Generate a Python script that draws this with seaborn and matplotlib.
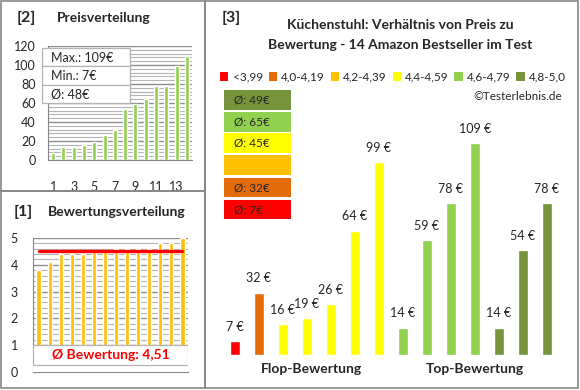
import numpy as np
import matplotlib
matplotlib.use('Agg')
import matplotlib.pyplot as plt
import seaborn as sns
from matplotlib.patches import Rectangle, Patch

# Data
prices_sorted = [7, 14, 14, 16, 19, 26, 32, 54, 59, 64, 78, 78, 99, 109]
ratings_sorted = [3.8, 4.1, 4.4, 4.4, 4.4, 4.5, 4.5, 4.6, 4.6, 4.6, 4.6, 4.8, 4.8, 5.0]
rating_mean = 4.51

bar_prices = [7, 32, 16, 19, 26, 64, 99, 14, 59, 78, 109, 14, 54, 78]
bar_groups = ['<3,99', '4,0-4,19', '4,4-4,59', '4,4-4,59', '4,4-4,59', '4,4-4,59', '4,4-4,59',
              '4,6-4,79', '4,6-4,79', '4,6-4,79', '4,6-4,79', '4,8-5,0', '4,8-5,0', '4,8-5,0']
legend_labels = ['<3,99', '4,0-4,19', '4,2-4,39', '4,4-4,59', '4,6-4,79', '4,8-5,0']
legend_colors = ['#FF0000', '#E36C09', '#FFC000', '#FFFF00', '#92D050', '#77933C']
avg_texts = ['Ø: 49€', 'Ø: 65€', 'Ø: 45€', '', 'Ø: 32€', 'Ø: 7€']
avg_colors = ['#77933C', '#92D050', '#FFFF00', '#FFC000', '#E36C09', '#FF0000']

W, H = 580, 390
GRAY = '#878787'

sns.set_style('white')
plt.rcParams['font.family'] = ['Lato', 'DejaVu Sans']

fig = plt.figure(figsize=(5.8, 3.9), dpi=100)


def box(x0, y0, x1, y1):
    # pixel box (top-left origin) -> figure fraction rect
    return [x0 / W, 1 - y1 / H, (x1 - x0) / W, (y1 - y0) / H]


def fxy(x, y):
    return x / W, 1 - y / H


# panel borders
for b in [box(1, 1, 205, 191), box(1, 191, 205, 388), box(205, 1, 578, 388)]:
    fig.add_artist(Rectangle((b[0], b[1]), b[2], b[3], transform=fig.transFigure,
                             fill=False, edgecolor=GRAY, lw=1.2))

# ---------- [2] Preisverteilung ----------
ax1 = fig.add_axes(box(48, 46, 192, 160))
sns.barplot(x=list(range(14)), y=prices_sorted, color='#92D050', width=0.4,
            saturation=1, ax=ax1, zorder=3)
ax1.set_ylim(0, 120)
ax1.set_xlim(-0.5, 13.5)
ax1.set_yticks(range(0, 121, 20))
ax1.set_yticks(range(0, 121, 4), minor=True)
ax1.grid(axis='y', which='major', color='#8c8c8c', lw=1)
ax1.grid(axis='y', which='minor', color='#b4b4b4', lw=0.8)
ax1.set_xticks(range(0, 14, 2))
ax1.set_xticklabels([str(i + 1) for i in range(0, 14, 2)])
ax1.tick_params(axis='x', length=0, pad=15, labelsize=9)
ax1.tick_params(axis='y', which='both', length=0, pad=9, labelsize=9)
for s in ['top', 'right']:
    ax1.spines[s].set_visible(False)
for s in ['left', 'bottom']:
    ax1.spines[s].set_color(GRAY)
fig.text(*fxy(17, 18), '[2]', fontsize=11.5, fontweight='bold', va='center')
fig.text(*fxy(57, 18), 'Preisverteilung', fontsize=10, fontweight='bold', va='center')

info = [f'Max.: {max(prices_sorted)}€', f'Min.: {min(prices_sorted)}€',
        f'Ø: {round(np.mean(prices_sorted))}€']
for i, t in enumerate(info):
    y0 = 48 + i * 18.3
    b = box(42, y0, 130, y0 + 18.3)
    fig.add_artist(Rectangle((b[0], b[1]), b[2], b[3], transform=fig.transFigure,
                             facecolor='white', edgecolor='#b4b4b4', lw=0.9, zorder=5))
    fig.text(*fxy(51, y0 + 9.5), t, fontsize=9, va='center', zorder=6)

# ---------- [1] Bewertungsverteilung ----------
ax2 = fig.add_axes(box(33, 238, 188, 372))
sns.barplot(x=list(range(14)), y=ratings_sorted, color='#FFC000', width=0.38,
            saturation=1, ax=ax2, zorder=3)
ax2.set_ylim(0, 5)
ax2.set_xlim(-0.5, 13.5)
ax2.set_yticks(range(0, 6))
ax2.set_yticks(np.arange(0, 5.01, 0.2), minor=True)
ax2.grid(axis='y', which='major', color='#8c8c8c', lw=1)
ax2.grid(axis='y', which='minor', color='#b4b4b4', lw=0.8)
ax2.set_xticks([])
ax2.tick_params(axis='y', which='major', length=3, color=GRAY, pad=8, labelsize=9)
ax2.tick_params(axis='y', which='minor', length=0)
for s in ['top', 'right']:
    ax2.spines[s].set_visible(False)
for s in ['left', 'bottom']:
    ax2.spines[s].set_color(GRAY)
ax2.plot([0, 13], [rating_mean, rating_mean], color='#FF0000', lw=2.4, zorder=4)
ax2.add_patch(Rectangle((-0.5, 0.01), 14, 0.25, facecolor='white', edgecolor='none', zorder=5))
ax2.add_patch(Rectangle((-0.5, 0.26), 14, 0.74, facecolor='white', edgecolor='#b4b4b4',
                        lw=0.9, zorder=5))
ax2.text(6.5, 0.63, 'Ø Bewertung: ' + f'{rating_mean:.2f}'.replace('.', ','),
         color='#FF0000', fontsize=10, fontweight='bold', ha='center', va='center', zorder=6)
fig.text(*fxy(14, 212), '[1]', fontsize=11.5, fontweight='bold', va='center')
fig.text(*fxy(48, 212), 'Bewertungsverteilung', fontsize=10, fontweight='bold', va='center')

# ---------- [3] Preis vs. Bewertung ----------
ax3 = fig.add_axes(box(223, 100, 559, 355))
color_map = dict(zip(legend_labels, legend_colors))
pos = list(range(len(bar_prices)))
sns.barplot(x=pos, y=bar_prices, hue=pos, palette=[color_map[g] for g in bar_groups],
            width=0.42, saturation=1, legend=False, ax=ax3)
ax3.set_xlim(-0.5, 13.5)
ax3.set_ylim(0, 255 / 1.945)
ax3.axis('off')
for i, v in enumerate(bar_prices):
    ax3.annotate(f'{v} €', (i, v), xytext=(0, 6), textcoords='offset points',
                 ha='center', va='bottom', fontsize=9)
ax3.text(3.2, -7.2, 'Flop-Bewertung', fontsize=10, fontweight='bold', ha='center', va='center')
ax3.text(10, -7.2, 'Top-Bewertung', fontsize=10, fontweight='bold', ha='center', va='center')

fig.text(*fxy(222, 18), '[3]', fontsize=11.5, fontweight='bold', va='center')
fig.text(*fxy(400, 25), 'Küchenstuhl: Verhältnis von Preis zu', fontsize=10,
         fontweight='bold', ha='center', va='center')
fig.text(*fxy(400, 45), 'Bewertung - 14 Amazon Bestseller im Test', fontsize=10,
         fontweight='bold', ha='center', va='center')

handles = [Patch(facecolor=c, edgecolor='none') for c in legend_colors]
fig.legend(handles, legend_labels, ncol=6, loc='center', bbox_to_anchor=fxy(393, 77),
           frameon=False, fontsize=8.5, handlelength=0.7, handleheight=0.7,
           handletextpad=0.35, columnspacing=0.5, borderpad=0)
fig.text(*fxy(562, 97), '©Testerlebnis.de', fontsize=8.5, ha='right', va='center')

avg_rows = [(90, 110), (112, 132), (133, 153), (155, 175), (178, 197), (200, 219)]
for (y0, y1), t, c in zip(avg_rows, avg_texts, avg_colors):
    b = box(224, y0, 291, y1)
    fig.add_artist(Rectangle((b[0], b[1]), b[2], b[3], transform=fig.transFigure,
                             facecolor=c, edgecolor='none'))
    if t:
        fig.text(*fxy(234, (y0 + y1) / 2), t, fontsize=8.5, va='center')

fig.savefig('out.png', dpi=100)
